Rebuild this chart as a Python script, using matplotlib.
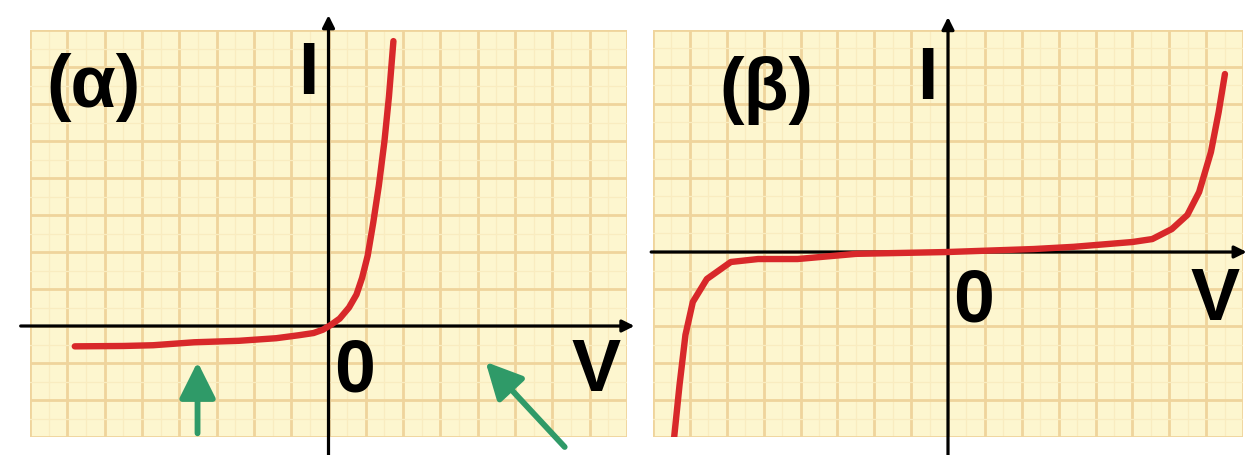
import matplotlib
matplotlib.use("Agg")
import matplotlib.pyplot as plt
import numpy as np

# ---------------- data (grid units) ----------------
# (α) forward-biased diode-like characteristic
alpha_V = [-6.8, -5.5, -4.7, -3.6, -2.4, -1.4, -0.8, -0.4, -0.15, 0.05, 0.3, 0.55,
           0.75, 0.9, 1.05, 1.2, 1.35, 1.5, 1.62, 1.74]
alpha_I = [-0.55, -0.54, -0.52, -0.44, -0.40, -0.33, -0.25, -0.19, -0.10, 0.02,
           0.2, 0.5, 0.85, 1.3, 1.9, 2.8, 3.8, 5.0, 6.2, 7.7]

# (β) symmetric breakdown characteristic
beta_V = [-7.44, -7.28, -7.12, -6.92, -6.54, -5.89, -5.15, -4.08, -2.49, 0.0, 2.32,
          3.41, 5.0, 5.54, 6.07, 6.49, 6.81, 7.13, 7.34, 7.51]
beta_I = [-5.14, -3.59, -2.24, -1.35, -0.73, -0.27, -0.19, -0.19, -0.05, 0.0, 0.08,
          0.14, 0.27, 0.35, 0.62, 1.0, 1.62, 2.70, 3.78, 4.81]

panel_labels = ["(α)", "(β)"]
axis_labels = ["I", "V", "0"]

# ---------------- style ----------------
W, H = 1258, 455
PAPER = "#fdf6cf"
MAJOR = "#efd49c"
MINOR = "#f9ecc0"
RED = "#d8282a"
GREEN = "#2f9a68"
FONT = "Liberation Sans"

fig = plt.figure(figsize=(W / 100, H / 100), dpi=100)
fig.patch.set_facecolor("white")


def make_panel(left_px, width_px, xlim, ylim):
    top_px, bot_px = 30, 437
    ax = fig.add_axes([left_px / W, (H - bot_px) / H, width_px / W, (bot_px - top_px) / H])
    ax.set_xlim(*xlim)
    ax.set_ylim(*ylim)
    ax.set_facecolor(PAPER)
    for s in ax.spines.values():
        s.set_visible(False)
    ax.set_xticks(np.arange(xlim[0], xlim[1] + 1, 1))
    ax.set_yticks(np.arange(ylim[0], ylim[1] + 1, 1))
    ax.set_xticks(np.arange(xlim[0] + 0.5, xlim[1], 1), minor=True)
    ax.set_yticks(np.arange(ylim[0] + 0.5, ylim[1], 1), minor=True)
    ax.tick_params(which="both", length=0, labelbottom=False, labelleft=False)
    ax.grid(which="minor", color=MINOR, lw=0.9)
    ax.grid(which="major", color=MAJOR, lw=2.0)
    ax.set_axisbelow(True)
    return ax


def draw_axes_lines(ax, x0, x1, y0, y1):
    ap = dict(arrowstyle="-|>,head_length=0.6,head_width=0.3", color="black",
              lw=2.3, mutation_scale=12, shrinkA=0, shrinkB=0)
    ax.annotate("", xy=(x1, 0), xytext=(x0, 0), arrowprops=ap,
                annotation_clip=False, zorder=3)
    ax.annotate("", xy=(0, y1), xytext=(0, y0), arrowprops=ap,
                annotation_clip=False, zorder=3)


def label(ax, x, y, s, size=53):
    ax.text(x, y, s, ha="center", va="baseline", fontsize=size,
            fontweight="bold", family=[FONT, "DejaVu Sans"], color="black",
            zorder=5)


# ---------------- panel (α) ----------------
axA = make_panel(30, 597, (-8, 8), (-3, 8))
draw_axes_lines(axA, -8.25, 8.2, -3.5, 8.4)
axA.plot(alpha_V, alpha_I, color=RED, lw=4.6, solid_capstyle="round",
         solid_joinstyle="round", zorder=4)
label(axA, -6.29, 5.92, panel_labels[0])
label(axA, -0.54, 6.27, axis_labels[0])
label(axA, 0.70, -1.76, axis_labels[2])
label(axA, 7.18, -1.76, axis_labels[1])

garrow = dict(arrowstyle="-|>,head_length=1.0,head_width=0.5", color=GREEN,
              lw=4.2, mutation_scale=22, shrinkA=0, shrinkB=0)
axA.annotate("", xy=(-3.51, -0.97), xytext=(-3.51, -2.90), arrowprops=garrow,
             annotation_clip=False, zorder=4)
axA.annotate("", xy=(4.21, -0.97), xytext=(6.33, -3.27), arrowprops=garrow,
             annotation_clip=False, zorder=4)

# ---------------- panel (β) ----------------
axB = make_panel(653, 590, (-8, 8), (-5, 6))
draw_axes_lines(axB, -8.05, 8.1, -5.6, 6.35)
axB.plot(beta_V, beta_I, color=RED, lw=4.6, solid_capstyle="round",
         solid_joinstyle="round", zorder=4)
label(axB, -4.92, 3.84, panel_labels[1])
label(axB, -0.56, 4.14, axis_labels[0])
label(axB, 0.70, -1.89, axis_labels[2])
label(axB, 7.25, -1.84, axis_labels[1])

fig.savefig("out.png", dpi=100, facecolor="white")
